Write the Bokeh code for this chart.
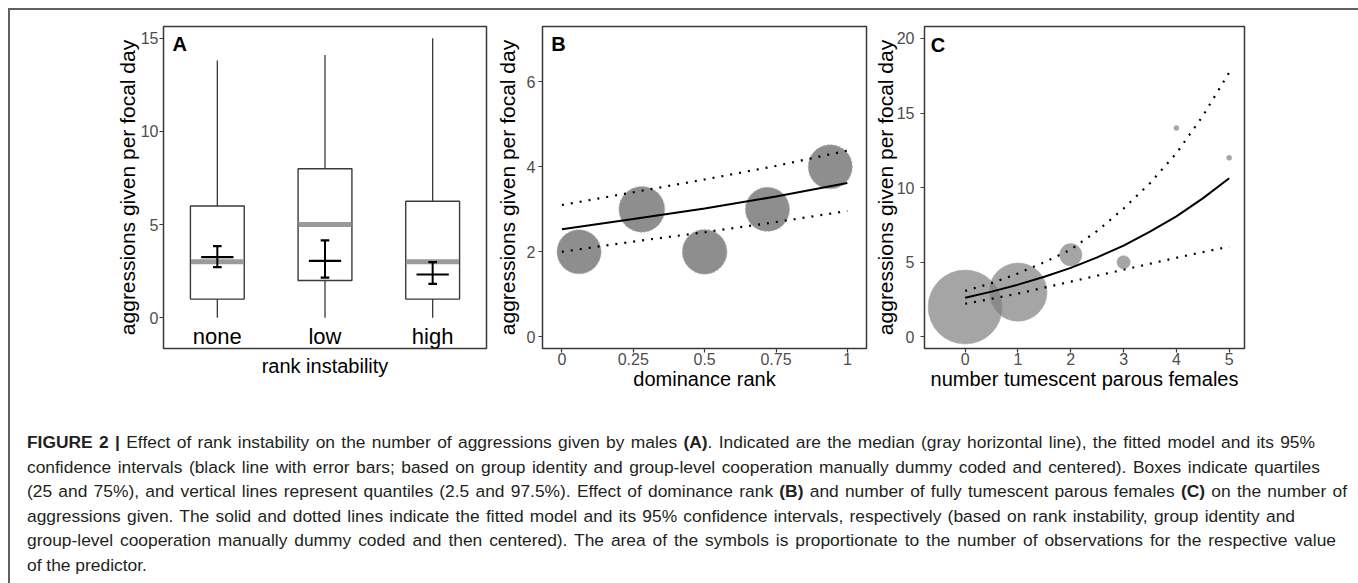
from bokeh.plotting import figure
from bokeh.layouts import column, row
from bokeh.models import (Div, FactorRange, Range1d, FixedTicker, Label, LabelSet,
                          ColumnDataSource, CustomJSTickFormatter, Title)
from bokeh.core.properties import value
from bokeh.embed import file_html
from bokeh.resources import INLINE
import math

FONT = "Liberation Sans"

# ---------------- data ----------------
# Panel A: rank instability
cats = ["none", "low", "high"]
a_whisk_lo = [0, 0, 0]
a_q1 = [1, 2, 1]
a_median = [3, 5, 3]
a_q3 = [6, 8, 6.25]
a_whisk_hi = [13.8, 14.1, 15]
a_fit = [3.25, 3.05, 2.32]
a_ci_lo = [2.72, 2.15, 1.82]
a_ci_hi = [3.84, 4.15, 2.98]
a_yticks = [0, 5, 10, 15]

# Panel B: dominance rank
b_rank = [0.06, 0.28, 0.50, 0.72, 0.94]
b_aggr = [2, 3, 2, 3, 4]
b_nobs = [78, 84, 80, 78, 78]
b_line_x = [0, 0.25, 0.5, 0.75, 1]
b_fit = [2.53, 2.77, 3.02, 3.30, 3.62]
b_ci_lo = [2.00, 2.24, 2.46, 2.70, 2.96]
b_ci_hi = [3.10, 3.40, 3.70, 4.02, 4.38]
b_xticks = [0, 0.25, 0.5, 0.75, 1]
b_yticks = [0, 2, 4, 6]

# Panel C: number of tumescent parous females
c_n = [0, 1, 2, 3, 4, 5]
c_aggr = [2, 3, 5.5, 5, 14, 12]
c_nobs = [219, 135, 20, 7, 1, 1]
c_line_x = [0, 0.5, 1, 1.5, 2, 2.5, 3, 3.5, 4, 4.5, 5]
c_fit = [2.62, 3.03, 3.50, 4.03, 4.62, 5.33, 6.12, 7.05, 8.08, 9.28, 10.63]
c_ci_lo = [2.22, 2.55, 2.90, 3.30, 3.70, 4.10, 4.50, 4.90, 5.30, 5.68, 6.05]
c_ci_hi = [3.08, 3.60, 4.25, 5.00, 5.85, 7.10, 8.60, 10.30, 12.30, 14.80, 17.72]
c_xticks = [0, 1, 2, 3, 4, 5]
c_yticks = [0, 5, 10, 15, 20]


def style(p, ylabel, xlabel, ylab_standoff, ytick_standoff):
    p.outline_line_color = "#3a3a3a"
    p.outline_line_width = 1.5
    p.xgrid.visible = False
    p.ygrid.visible = False
    p.background_fill_color = "white"
    p.border_fill_color = "white"
    for ax in (p.xaxis[0], p.yaxis[0]):
        ax.axis_line_color = None
        ax.major_tick_line_color = "#3a3a3a"
        ax.major_tick_line_width = 1.2
        ax.major_tick_in = 0
        ax.major_tick_out = 4
        ax.minor_tick_line_color = None
        ax.major_label_text_font = FONT
        ax.major_label_text_font_size = "16px"
        ax.major_label_text_color = "#4d4d4d"
        ax.axis_label_text_font = FONT
        ax.axis_label_text_font_style = "normal"
        ax.axis_label_text_color = "black"
    p.yaxis.axis_label = ylabel
    p.yaxis.axis_label_text_font_size = "21px"
    p.yaxis.axis_label_standoff = ylab_standoff
    p.yaxis.major_label_standoff = ytick_standoff
    if xlabel:
        p.xaxis.axis_label = xlabel
    p.xaxis.axis_label_text_font_size = "20px"
    p.xaxis.major_label_standoff = 0
    p.xaxis.axis_label_standoff = 0


def letter(p, txt, x, y):
    p.add_layout(Label(x=x, y=y, text=txt, text_font=FONT, text_font_size="20px",
                       text_font_style="bold", text_color="black",
                       text_baseline="middle"))


YLAB = "aggressions given per focal day"

# ---------------- Panel A ----------------
pA = figure(x_range=FactorRange(*cats, range_padding=0), y_range=Range1d(-1.65, 15.63),
            width=480, height=388, output_backend="svg", toolbar_location=None,
            min_border_left=153, min_border_right=4, min_border_top=16, min_border_bottom=50)
style(pA, YLAB, None, -1, 1)
pA.yaxis.ticker = FixedTicker(ticks=a_yticks)
pA.xaxis.visible = False
pA.add_layout(Title(text="rank instability", align="center", text_font=FONT,
                    text_font_size="20px", text_font_style="normal", text_color="black",
                    standoff=8), "below")

pA.segment(x0=cats, y0=a_q3, x1=cats, y1=a_whisk_hi, line_color="#3a3a3a", line_width=1.3)
pA.segment(x0=cats, y0=a_whisk_lo, x1=cats, y1=a_q1, line_color="#3a3a3a", line_width=1.3)
pA.vbar(x=cats, bottom=a_q1, top=a_q3, width=0.5, fill_color="white",
        line_color="#3a3a3a", line_width=1.4)
pA.rect(x=cats, y=a_median, width=0.49, height=5, height_units="screen",
        fill_color="#9a9a9a", line_color=None)
pA.segment(x0=cats, y0=a_ci_lo, x1=cats, y1=a_ci_hi, line_color="black", line_width=2)
pA.rect(x=cats, y=a_fit, width=0.3, height=2.2, height_units="screen",
        fill_color="black", line_color=None)
pA.rect(x=cats, y=a_ci_hi, width=0.08, height=2.2, height_units="screen",
        fill_color="black", line_color=None)
pA.rect(x=cats, y=a_ci_lo, width=0.08, height=2.2, height_units="screen",
        fill_color="black", line_color=None)
cat_src = ColumnDataSource(dict(x=cats, y=[-0.99] * len(cats), t=cats))
pA.add_layout(LabelSet(x="x", y="y", text="t", source=cat_src, text_align="center",
                       text_baseline="middle", text_font=value(FONT),
                       text_font_size=value("22px"), text_color=value("black")))
letter(pA, "A", 0.084, 14.68)

# ---------------- Panel B ----------------
pB = figure(x_range=Range1d(-0.068, 1.067), y_range=Range1d(-0.275, 7.30),
            width=380, height=388, output_backend="svg", toolbar_location=None,
            min_border_left=52, min_border_right=4, min_border_top=16, min_border_bottom=50)
style(pB, YLAB, "dominance rank", 5, 3)
pB.xaxis.ticker = FixedTicker(ticks=b_xticks)
pB.yaxis.ticker = FixedTicker(ticks=b_yticks)
pB.xaxis.formatter = CustomJSTickFormatter(code="return String(tick);")

pB.scatter(x=b_rank, y=b_aggr, size=[5 * math.sqrt(n) for n in b_nobs],
           fill_color="#8e8e8e", line_color="#b5b5b5", line_width=1, line_dash="2 2")
pB.line(b_line_x, b_fit, line_color="black", line_width=2)
pB.line(b_line_x, b_ci_lo, line_color="black", line_width=2.2, line_dash="2 7")
pB.line(b_line_x, b_ci_hi, line_color="black", line_width=2.2, line_dash="2 7")
letter(pB, "B", -0.037, 6.88)

# ---------------- Panel C ----------------
pC = figure(x_range=Range1d(-0.77, 5.29), y_range=Range1d(-0.78, 20.8),
            width=380, height=388, output_backend="svg", toolbar_location=None,
            min_border_left=52, min_border_right=6, min_border_top=16, min_border_bottom=50)
style(pC, YLAB, "number tumescent parous females", -3, 6)
pC.xaxis.ticker = FixedTicker(ticks=c_xticks)
pC.yaxis.ticker = FixedTicker(ticks=c_yticks)

pC.scatter(x=c_n, y=c_aggr, size=[5 * math.sqrt(n) for n in c_nobs],
           fill_color="#7f7f7f", fill_alpha=0.7, line_color="#a8a8a8", line_alpha=0.6,
           line_width=1)
pC.line(c_line_x, c_fit, line_color="black", line_width=2)
pC.line(c_line_x, c_ci_lo, line_color="black", line_width=2.2, line_dash="2 7")
pC.line(c_line_x, c_ci_hi, line_color="black", line_width=2.2, line_dash="2 7")
letter(pC, "C", -0.65, 19.59)

# ---------------- caption ----------------
cap_lines = [
    "<b>FIGURE 2 |</b> Effect of rank instability on the number of aggressions given by males <b>(A)</b>. Indicated are the median (gray horizontal line), the fitted model and its 95%",
    "confidence intervals (black line with error bars; based on group identity and group-level cooperation manually dummy coded and centered). Boxes indicate quartiles",
    "(25 and 75%), and vertical lines represent quantiles (2.5 and 97.5%). Effect of dominance rank <b>(B)</b> and number of fully tumescent parous females <b>(C)</b> on the number of",
    "aggressions given. The solid and dotted lines indicate the fitted model and its 95% confidence intervals, respectively (based on rank instability, group identity and",
    "group-level cooperation manually dummy coded and then centered). The area of the symbols is proportionate to the number of observations for the respective value",
    "of the predictor.",
]
cap_widths = [1288, 1293, 1320, 1268, 1309, None]

parts = []
for txt, w in zip(cap_lines, cap_widths):
    if w is None:
        parts.append(f'<div style="white-space:nowrap;">{txt}</div>')
    else:
        parts.append(f'<div style="width:{w}px;white-space:nowrap;text-align:justify;'
                     f'text-align-last:justify;">{txt}</div>')
cap_html = ('<div style="padding:27px 0 0 12px;font-family:\'Liberation Sans\',sans-serif;'
            'font-size:17.4px;line-height:24.5px;color:#231f20;">' + "".join(parts) + '</div>')
cap = Div(text=cap_html, width=1344, height=176)

layout = column(row(pA, pB, pC), cap,
                styles={"margin-left": "8px", "margin-top": "8px",
                        "border-top": "2px solid #606060", "border-left": "2px solid #606060",
                        "border-right": "2px solid #707070", "background": "white"})

open("out.html", "w").write(file_html(layout, INLINE))
